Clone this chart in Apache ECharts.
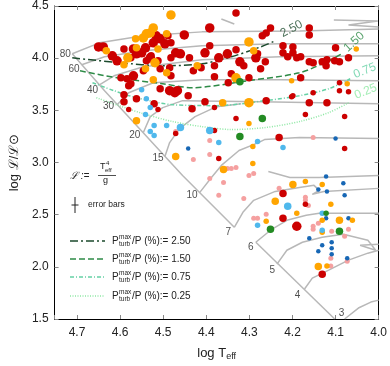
<!DOCTYPE html>
<html>
<head>
<meta charset="utf-8">
<script src="https://cdn.jsdelivr.net/npm/echarts@6/dist/echarts.min.js"></script>
<style>
  html, body { margin: 0; padding: 0; background: #fff; }
  #chart { width: 390px; height: 366px; }
</style>
</head>
<body>
<div id="chart"></div>
<script>
// points: [log Teff, log L, size class]
const redStars = [
  [4.650,4.108,3],[4.639,4.108,3],[4.618,4.022,3],[4.607,3.975,3],[4.591,4.089,2],[4.569,4.089,3],
  [4.562,4.042,3],[4.575,4.003,2],[4.550,4.051,3],[4.541,4.099,3],[4.530,4.003,3],[4.516,4.214,3],
  [4.507,4.185,3],[4.523,4.147,3],[4.496,4.137,3],[4.482,4.147,2],[4.489,4.214,2],[4.451,4.223,3],
  [4.569,3.831,3],[4.546,3.879,2],[4.584,3.803,2],[4.575,3.755,2],[4.598,3.812,2],[4.507,3.898,2],
  [4.507,3.707,2],[4.539,3.975,2],[4.528,4.022,2],[4.512,3.975,2],[4.471,4.051,3],[4.460,4.042,3],
  [4.482,4.003,2],[4.482,3.831,2],[4.485,3.908,2],[4.430,3.879,2],[4.439,4.003,2],[4.412,3.908,2],
  [4.403,4.051,3],[4.392,4.118,2],[4.392,4.290,3],[4.331,4.433,2],[4.381,3.927,2],[4.371,4.003,3],
  [4.351,4.042,3],[4.331,4.080,2],[4.381,3.822,2],[4.342,3.850,2],[4.349,3.765,2],[4.313,3.927,2],
  [4.322,3.965,3],[4.281,4.042,2],[4.285,4.003,3],[4.263,3.965,2],[4.274,3.898,2],[4.301,3.812,2],
  [4.251,4.290,2],[4.261,4.242,2],[4.270,4.214,2],[4.161,4.290,2],[4.161,4.223,2],[4.222,4.118,2],
  [4.199,4.108,2],[4.199,4.051,2],[4.222,4.051,2],[4.211,4.013,2],[4.190,4.003,2],[4.181,4.013,2],
  [4.161,3.965,2],[4.152,3.956,2],[4.131,3.965,2],[4.120,3.984,2],[4.122,3.927,2],[4.100,4.099,2],
  [4.102,3.975,2],[4.091,3.965,2],[4.070,4.003,2],[4.181,3.812,2],[4.091,3.765,1],[4.091,3.688,1],
  [4.070,3.679,1],[4.199,3.640,1],[4.485,3.688,3],[4.473,3.669,3],[4.467,3.688,3],[4.442,3.640,2],
  [4.433,3.516,2],[4.403,3.583,2],[4.381,3.526,1],[4.591,3.650,2],[4.562,3.612,2],[4.591,3.583,2],
  [4.521,3.564,2],[4.512,3.507,1],[4.580,3.507,1],[4.580,3.736,2],[4.261,3.593,2],[4.202,3.631,1],
  [4.152,3.669,1],[4.161,3.573,2],[4.120,3.573,2],[4.331,3.421,1],[4.170,3.459,1],[4.079,3.440,1],
  [4.231,3.239,2],[4.079,3.134,1],[4.371,3.038,1],[4.381,3.306,1],[4.471,3.277,1],[4.222,2.704,2],
  [4.222,2.465,2],[4.190,2.389,3],[4.170,2.599,1],[4.131,1.930,2]
];
const orangeStars = [
  [4.482,4.414,3],[4.523,4.290,3],[4.530,4.242,3],[4.539,4.233,3],[4.546,4.194,3],[4.564,4.185,2],
  [4.492,4.233,2],[4.632,4.070,2],[4.512,4.089,2],[4.582,4.003,3],[4.519,3.956,3],[4.591,3.937,2],
  [4.541,3.898,2],[4.492,3.860,2],[4.523,3.793,2],[4.562,4.099,2],[4.421,3.927,2],[4.301,4.156,3],
  [4.290,4.070,2],[4.331,3.812,3],[4.562,3.401,2],[4.471,3.058,2],[4.362,3.573,2],[4.301,3.573,3],
  [4.202,3.784,1],[4.073,3.755,1],[4.052,4.089,1],[4.301,3.373,1],[4.292,3.153,1],[4.292,2.991,1],
  [4.360,2.933,2],[4.199,2.790,2],[4.170,2.819,1],[4.131,2.790,1],[4.240,2.628,2],[4.190,2.513,1],
  [4.261,2.437,1],[4.111,2.599,1],[4.131,2.446,1],[4.091,2.446,2],[4.061,2.446,1],[4.131,2.332,1],
  [4.140,2.002,2],[4.120,2.007,1]
];
const lightBlueStars = [
  [4.550,3.698,1],[4.539,3.612,1],[4.530,3.526,1],[4.541,3.459,1],[4.521,3.354,1],[4.492,3.354,1],
  [4.460,3.335,2],[4.530,3.296,1],[4.521,3.258,1],[4.392,3.306,2],[4.371,3.191,1],[4.281,3.201,1],
  [4.222,3.144,1],[4.211,2.580,2],[4.281,2.398,1],[4.131,2.513,1],[4.131,2.351,1]
];
const darkBlueStars = [
  [4.442,3.134],[4.100,3.230],[4.122,2.866],[4.082,2.800],[4.140,2.742],[4.120,2.723],[4.079,2.685],
  [4.122,2.465],[4.070,2.465],[4.161,2.274],[4.131,2.207],[4.109,2.236],[4.109,2.179],[4.109,2.121],
  [4.140,2.150],[4.073,2.083]
];
const pinkStars = [
  [4.471,3.296],[4.430,3.029],[4.392,3.210],[4.392,3.077],[4.152,3.239],[4.351,2.943],[4.342,2.943],
  [4.331,2.952],[4.301,2.876],[4.290,2.895],[4.392,2.847],[4.360,2.809],[4.371,2.685],[4.313,2.656],
  [4.231,2.752],[4.170,2.666],[4.170,2.637],[4.163,2.589],[4.261,2.503],[4.290,2.465],[4.281,2.465],
  [4.152,2.389],[4.152,2.360],[4.140,2.417],[4.109,2.341],[4.070,2.360],[4.079,2.293],[4.111,2.083],
  [4.111,2.007],[4.073,2.054]
];
const greenStars = [
  [4.322,3.774,2],[4.270,3.421,2],[4.322,3.249,2],[4.251,2.360,2],[4.122,2.513,1],[4.091,2.341,2]
];

// evolutionary tracks and ZAMS
const zamsHigh = [[4.711,4.042],[4.636,3.688],[4.455,2.876],[4.335,2.379]];
const zamsLow = [[4.285,2.236],[4.102,1.5]];
const track80 = [[4.711,4.042],[4.648,4.147],[4.546,4.214],[4.410,4.252],[4.183,4.261],[4.0,4.280]];
const track80End = [[4.104,4.366],[4.002,4.357],[4.070,4.318],[4.0,4.299]];
const track80Bit = [[4.365,4.376],[4.335,4.328]];
const track60 = [[4.689,3.937],[4.636,4.013],[4.546,4.070],[4.410,4.118],[4.229,4.137],[4.0,4.137]];
const track40 = [[4.648,3.745],[4.614,3.831],[4.546,3.917],[4.410,3.984],[4.229,4.013],[4.0,4.022]];
const track30 = [[4.607,3.554],[4.580,3.669],[4.523,3.765],[4.410,3.793],[4.229,3.793],[4.0,3.784]];
const track20 = [[4.546,3.287],[4.530,3.440],[4.501,3.526],[4.455,3.593],[4.274,3.583],[4.0,3.564]];
const track15 = [[4.496,3.058],[4.485,3.191],[4.462,3.325],[4.426,3.440],[4.376,3.535],[4.319,3.564]];
const track10 = [[4.415,2.714],[4.388,2.857],[4.365,2.972],[4.324,3.115],[4.279,3.191],[4.265,3.220],[4.184,3.239],[4.0,3.230]];
const track10Loop = [[4.256,2.914],[4.206,2.857],[4.138,2.857],[4.0,2.876]];
const track7 = [[4.335,2.379],[4.315,2.522],[4.290,2.637],[4.240,2.723],[4.184,2.761],[4.150,2.781],[4.138,2.733],[4.154,2.695],[4.127,2.723],[4.0,2.752]];
const track6 = [[4.285,2.236],[4.251,2.351],[4.213,2.446],[4.168,2.494],[4.138,2.513],[4.0,2.513]];
const track5 = [[4.236,2.026],[4.213,2.159],[4.177,2.236],[4.131,2.284],[4.082,2.312],[4.025,2.255],[4.007,2.159],[4.043,2.207],[4.0,2.217]];
const track4 = [[4.172,1.787],[4.154,1.892],[4.116,1.968],[4.070,2.064],[4.025,2.131],[4.0,2.159]];
const track3 = [[4.079,1.5],[4.047,1.605],[4.018,1.662],[4.0,1.681]];

const massNames = ['80','60','40','30','20','15','10','7','6','5','4','3'];
const massLabelPos = [[4.727,4.042],[4.707,3.898],[4.664,3.688],[4.627,3.535],[4.566,3.258],[4.512,3.038],
  [4.433,2.685],[4.349,2.332],[4.297,2.188],[4.247,1.968],[4.188,1.729],[4.086,1.558]];

// max turbulent pressure contours (%)
const turb250 = [[4.711,4.003],[4.598,3.956],[4.501,3.927],[4.410,3.946],[4.342,4.013],[4.274,4.108],[4.240,4.166]];
const turb150 = [[4.693,3.879],[4.607,3.812],[4.501,3.755],[4.433,3.717],[4.304,3.784],[4.184,3.860],[4.116,3.975],[4.082,4.051]];
const turb075 = [[4.664,3.765],[4.614,3.688],[4.562,3.621],[4.478,3.554],[4.376,3.545],[4.263,3.593],[4.184,3.640],[4.116,3.707],[4.066,3.803]];
const turb025 = [[4.655,3.621],[4.603,3.545],[4.546,3.468],[4.478,3.392],[4.410,3.344],[4.342,3.316],[4.263,3.335],[4.184,3.392],[4.116,3.478],[4.070,3.573]];
const turbLevels = ['2.50','1.50','0.75','0.25'];
const turbLabelPos = [[4.202,4.280],[4.057,4.156],[4.032,3.879],[4.030,3.679]];
const turbLabelAngle = [28, 42, 22, 22];

const xTicks = [4.0,4.1,4.2,4.3,4.4,4.5,4.6,4.7];

const turbColors = ['#1b4a2c', '#2e8b47', '#66d1a5', '#8ee8a4'];
const turbDash = [[8,3,2,3], [6,3], [4,2,1,2], [1,1.5]];

const chart = echarts.init(document.getElementById('chart'));

const grayTracks = [zamsHigh, zamsLow, track80, track80End, track80Bit, track60, track40, track30, track20,
  track15, track10, track10Loop, track7, track6, track5, track4, track3];

const series = [];
grayTracks.forEach(t => {
  series.push({
    type: 'line', data: t, showSymbol: false, silent: true, z: 1,
    lineStyle: { color: '#b8b8b8', width: 1.5 }
  });
});
[turb250, turb150, turb075, turb025].forEach((t, i) => {
  series.push({
    type: 'line', data: t, showSymbol: false, silent: true, z: 2, smooth: 0.3,
    lineStyle: { color: turbColors[i], width: 1.5, type: turbDash[i] }
  });
});

const sizeBig = { 1: 5.5, 2: 7.5, 3: 9.5 };
function scatter(data, color, sizeFn) {
  return {
    type: 'scatter', data: data, z: 5, silent: true,
    symbolSize: sizeFn, itemStyle: { color: color, opacity: 1 }
  };
}
series.push(scatter(pinkStars, '#f5a0a0', 5));
series.push(scatter(darkBlueStars, '#1767b5', 4.5));
series.push(scatter(redStars, '#cc0000', d => sizeBig[d[2]]));
series.push(scatter(orangeStars, '#ffa500', d => sizeBig[d[2]]));
series.push(scatter(lightBlueStars, '#4fb8ec', d => sizeBig[d[2]]));
series.push(scatter(greenStars, '#238b23', d => sizeBig[d[2]]));

// mass labels
series.push({
  type: 'scatter', silent: true, z: 6, symbolSize: 1,
  itemStyle: { color: 'transparent' },
  data: massLabelPos.map((p, i) => ({ name: massNames[i], value: p })),
  label: { show: true, position: 'inside', formatter: '{b}', fontSize: 10, color: '#222' }
});
// contour labels
series.push({
  type: 'scatter', silent: true, z: 6, symbolSize: 1,
  itemStyle: { color: 'transparent' },
  data: turbLabelPos.map((p, i) => ({
    name: turbLevels[i], value: p,
    label: { rotate: turbLabelAngle[i], color: turbColors[i] }
  })),
  label: { show: true, position: 'inside', formatter: '{b}', fontSize: 12 }
});

const legendRows = [241, 259, 277, 296];
const graphic = [];
legendRows.forEach((y, i) => {
  graphic.push({ type: 'line', shape: { x1: 70, y1: y, x2: 105, y2: y },
    style: { stroke: turbColors[i], lineWidth: 1.6, lineDash: turbDash[i] } });
  graphic.push({ type: 'text', x: 112, y: y, style: { text: 'P', fontSize: 10, fill: '#222', verticalAlign: 'middle' } });
  graphic.push({ type: 'text', x: 119, y: y - 4, style: { text: 'max', fontSize: 6.5, fill: '#222', verticalAlign: 'middle' } });
  graphic.push({ type: 'text', x: 119, y: y + 3.5, style: { text: 'turb', fontSize: 6.5, fill: '#222', verticalAlign: 'middle' } });
  graphic.push({ type: 'text', x: 132, y: y, style: { text: '/P (%):= ' + turbLevels[i], fontSize: 10, fill: '#222', verticalAlign: 'middle' } });
});
// definition of L
graphic.push({ type: 'text', x: 70, y: 176, style: { text: 'ℒ :=', fontSize: 10, fontStyle: 'italic', fill: '#222', verticalAlign: 'middle' } });
graphic.push({ type: 'text', x: 100, y: 167, style: { text: 'T', fontSize: 9, fill: '#222', verticalAlign: 'middle' } });
graphic.push({ type: 'text', x: 106, y: 163, style: { text: '4', fontSize: 6, fill: '#222', verticalAlign: 'middle' } });
graphic.push({ type: 'text', x: 105, y: 170, style: { text: 'eff', fontSize: 6, fill: '#222', verticalAlign: 'middle' } });
graphic.push({ type: 'line', shape: { x1: 98, y1: 175.5, x2: 116, y2: 175.5 }, style: { stroke: '#222', lineWidth: 0.8 } });
graphic.push({ type: 'text', x: 103, y: 181, style: { text: 'g', fontSize: 9, fill: '#222', verticalAlign: 'middle' } });
// error bar sample
graphic.push({ type: 'line', shape: { x1: 75, y1: 197, x2: 75, y2: 213 }, style: { stroke: '#222', lineWidth: 1 } });
graphic.push({ type: 'line', shape: { x1: 71.5, y1: 205, x2: 78.5, y2: 205 }, style: { stroke: '#222', lineWidth: 1 } });
graphic.push({ type: 'text', x: 88, y: 205, style: { text: 'error bars', fontSize: 8.5, fill: '#222', verticalAlign: 'middle' } });

const xLabel = v => xTicks.some(t => Math.abs(t - v) < 1e-6) ? v.toFixed(1) : '';
const tickStyle = { inside: true, length: 4, lineStyle: { color: '#888', width: 1 } };
const frame = { show: true, lineStyle: { color: '#000', width: 1 } };

chart.setOption({
  animation: false,
  backgroundColor: '#fff',
  grid: { left: 49, right: 9, top: 5, bottom: 47 },
  xAxis: [
    {
      type: 'value', min: 4.0, max: 4.752, interval: 0.1, inverse: true, position: 'bottom',
      axisLine: frame, axisTick: tickStyle, splitLine: { show: false },
      axisLabel: { fontSize: 12, color: '#222', margin: 8, formatter: xLabel },
      name: '{a|log T}{b|eff}', nameLocation: 'middle', nameGap: 26,
      nameTextStyle: { rich: { a: { fontSize: 13, color: '#222' }, b: { fontSize: 9, color: '#222', padding: [7, 0, 0, 0] } } }
    },
    {
      type: 'value', min: 4.0, max: 4.752, interval: 0.1, inverse: true, position: 'top',
      axisLine: frame, axisTick: tickStyle, splitLine: { show: false }, axisLabel: { show: false }
    }
  ],
  yAxis: [
    {
      type: 'value', min: 1.5, max: 4.5, interval: 0.5, position: 'left',
      axisLine: frame, axisTick: tickStyle, splitLine: { show: false },
      axisLabel: { fontSize: 12, color: '#222', margin: 6, formatter: v => v.toFixed(1) },
      name: 'log ℒ/ℒ⊙', nameLocation: 'middle', nameGap: 33,
      nameTextStyle: { fontSize: 13, color: '#222' }
    },
    {
      type: 'value', min: 1.5, max: 4.5, interval: 0.5, position: 'right',
      axisLine: frame, axisTick: tickStyle, splitLine: { show: false }, axisLabel: { show: false }
    }
  ],
  graphic: graphic,
  series: series
});
</script>
</body>
</html>
